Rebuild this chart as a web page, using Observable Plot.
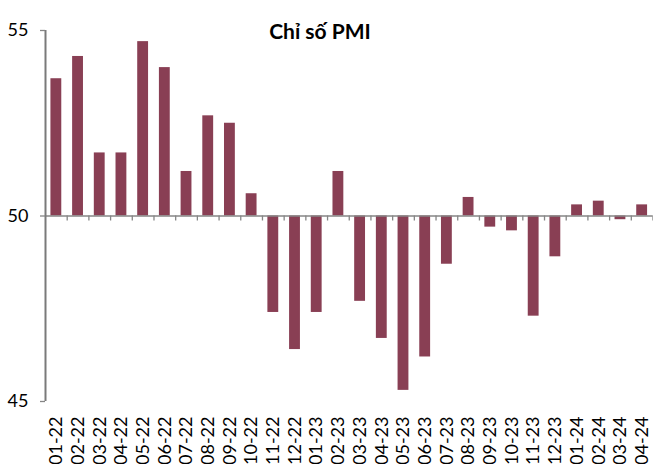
<!DOCTYPE html>
<html><head><meta charset="utf-8">
<script src="https://cdn.jsdelivr.net/npm/d3@7"></script>
<script src="https://cdn.jsdelivr.net/npm/@observablehq/plot@0.6"></script>
<style>
body{margin:0;background:#fff;}
#wrap{position:relative;width:653px;height:464px;}
#title{position:absolute;left:0;width:640px;top:18px;line-height:21px;text-align:center;font:bold 21px Lato, sans-serif;color:#000;}
</style></head><body>
<div id="wrap"><div id="title">Chỉ số PMI</div></div>
<script>
const months = ["01-22","02-22","03-22","04-22","05-22","06-22","07-22","08-22","09-22","10-22","11-22","12-22",
  "01-23","02-23","03-23","04-23","05-23","06-23","07-23","08-23","09-23","10-23","11-23","12-23",
  "01-24","02-24","03-24","04-24"];
const pmi = [53.7,54.3,51.7,51.7,54.7,54.0,51.2,52.7,52.5,50.6,47.4,46.4,
  47.4,51.2,47.7,46.7,45.3,46.2,48.7,50.5,49.7,49.6,47.3,48.9,
  50.3,50.4,49.9,50.3];
const yTicks = [45, 50, 55];
const baseline = 50;
const data = months.map((m, i) => ({month: m, value: pmi[i]}));

const W = 653, H = 464, mL = 45, mR = 0.5, mT = 30, mB = 63;
const step = (W - mL - mR) / months.length;
const axisColor = "#868686";
const innerH = H - mT - mB;
const tickLen = 5;
const tickInset = innerH * (baseline - 45) / 10 - tickLen;

const chart = Plot.plot({
  width: W, height: H, marginLeft: mL, marginRight: mR, marginTop: mT, marginBottom: mB,
  style: {fontFamily: "Lato, sans-serif", fontSize: "18px", color: "#000", background: "#fff"},
  x: {domain: months, type: "band", paddingInner: 0.5, paddingOuter: 0.25, round: false, label: null},
  y: {domain: [45, 55], label: null},
  marks: [
    Plot.barY(data, {x: "month", y1: baseline, y2: "value", fill: "#893F54"}),
    Plot.ruleY([baseline], {stroke: axisColor, strokeWidth: 1.3}),
    Plot.ruleX(months, {x: d => d, dx: step / 2, y1: baseline, y2: 45, insetBottom: tickInset, stroke: axisColor, strokeWidth: 1.3}),
    Plot.ruleX([months[0]], {x: d => d, dx: -step / 2, y1: 45, y2: 55, stroke: "#7a7a7a", strokeWidth: 2}),
    Plot.axisY({ticks: yTicks, tickSize: 5, tickPadding: 12, stroke: axisColor, strokeWidth: 1.3, fill: "#000", label: null}),
    Plot.axisX({tickSize: 0, tickRotate: -90, tickPadding: 15, fill: "#000", label: null})
  ]
});
document.getElementById("wrap").prepend(chart);
</script>
</body></html>
